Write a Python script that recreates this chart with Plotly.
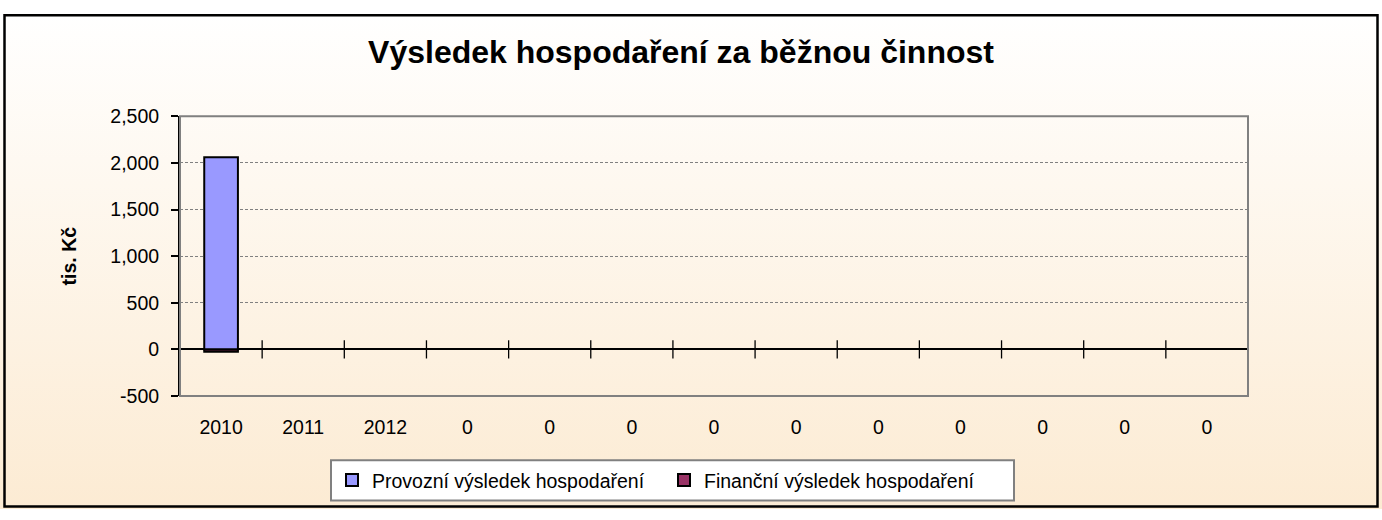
import base64
import plotly.graph_objects as go

# ---- data ----
categories = ["2010", "2011", "2012", "0", "0", "0", "0", "0", "0", "0", "0", "0", "0"]
provozni = [2060, None, None, None, None, None, None, None, None, None, None, None, None]
financni = [-25, None, None, None, None, None, None, None, None, None, None, None, None]
series_names = ["Provozní výsledek hospodaření", "Finanční výsledek hospodaření"]
y_ticks = [-500, 0, 500, 1000, 1500, 2000, 2500]
y_tick_labels = ["-500", "0", "500", "1,000", "1,500", "2,000", "2,500"]
title_text = "Výsledek hospodaření za běžnou činnost"
y_title = "tis. Kč"

W, H = 1382, 520
# plot area in pixels
PL, PR, PT, PB = 180, 1248, 110, 402

xs = list(range(len(categories)))
boundaries = [i - 0.5 for i in range(len(categories) + 1)]

FONT = "Liberation Sans, Arial, sans-serif"

fig = go.Figure()
fig.add_trace(go.Bar(
    x=xs, y=provozni, name=series_names[0], width=0.41,
    marker=dict(color="#9999FF", line=dict(color="#000000", width=2)),
))
fig.add_trace(go.Bar(
    x=xs, y=financni, name=series_names[1], width=0.41,
    marker=dict(color="#993366", line=dict(color="#000000", width=2)),
))
# category-boundary tick marks on the zero line
fig.add_trace(go.Scatter(
    x=boundaries[1:], y=[0] * (len(boundaries) - 1), mode="markers",
    marker=dict(symbol="line-ns-open", size=13, color="#000000",
                line=dict(color="#000000", width=1.3)),
    showlegend=False, hoverinfo="skip", cliponaxis=False,
))

svg = (
    '<svg xmlns="http://www.w3.org/2000/svg" width="100" height="100" preserveAspectRatio="none">'
    '<defs><linearGradient id="g" x1="0" y1="0" x2="0" y2="1">'
    '<stop offset="0" stop-color="#FFFFFF"/><stop offset="1" stop-color="#FCEBD3"/>'
    '</linearGradient></defs><rect width="100" height="100" fill="url(#g)"/></svg>'
)
bg_uri = "data:image/svg+xml;base64," + base64.b64encode(svg.encode()).decode()

fig.update_layout(
    width=W, height=H,
    margin=dict(l=0, r=0, t=0, b=0),
    paper_bgcolor="#FFFFFF",
    plot_bgcolor="#DDDDDD",
    barmode="overlay",
    font=dict(family=FONT, size=19.5, color="#000000"),
    title=dict(text=title_text, x=681 / W, xanchor="center", y=1 - 52 / H, yanchor="middle",
               font=dict(family=FONT, size=32, color="#000000", weight="bold")),
    images=[dict(source=bg_uri, xref="paper", yref="paper", x=0, y=1, sizex=1, sizey=1,
                 xanchor="left", yanchor="top", sizing="stretch", layer="below")],
    xaxis=dict(
        domain=[PL / W, PR / W], range=[-0.5, len(categories) - 0.5],
        tickmode="array", tickvals=xs, ticktext=categories,
        showgrid=False, zeroline=False, showline=False,
        ticks="outside", ticklen=0, ticklabelstandoff=14,
        tickfont=dict(family=FONT, size=19.5, color="#000000"),
        fixedrange=True,
    ),
    yaxis=dict(
        domain=[1 - PB / H, 1 - PT / H], range=[-500, 2500],
        tickmode="array", tickvals=y_ticks, ticktext=y_tick_labels,
        showgrid=True, gridcolor="#808080", gridwidth=1, griddash="3px,2px",
        zeroline=True, zerolinecolor="#000000", zerolinewidth=1.5,
        showline=True, linecolor="#000000", linewidth=2,
        ticks="outside", ticklen=7, tickcolor="#000000", tickwidth=1.5,
        ticklabelstandoff=8,
        tickfont=dict(family=FONT, size=19.5, color="#000000"),
        title=dict(text=y_title, standoff=28,
                   font=dict(family=FONT, size=19.5, color="#000000", weight="bold")),
        fixedrange=True,
    ),
    legend=dict(
        orientation="h", x=332 / W, y=1 - 490 / H, xanchor="left", yanchor="middle",
        bgcolor="rgba(0,0,0,0)", borderwidth=0,
        entrywidth=287, entrywidthmode="pixels",
        font=dict(family=FONT, size=19.5, color="#000000"),
        traceorder="normal",
    ),
    shapes=[
        # legend box
        dict(type="rect", xref="paper", yref="paper", x0=331 / W, x1=1014 / W,
             y0=1 - 511 / H, y1=1 - 469 / H, fillcolor="#FFFFFF",
             line=dict(color="#808080", width=2), layer="below"),
        # plot area border
        dict(type="rect", xref="paper", yref="paper", x0=PL / W, x1=PR / W,
             y0=1 - PB / H, y1=1 - PT / H, line=dict(color="#808080", width=2), layer="above"),
        # outer chart border
        dict(type="rect", xref="paper", yref="paper", x0=4.5 / W, x1=1377.5 / W,
             y0=1 - 517.5 / H, y1=1 - 4.5 / H, line=dict(color="#000000", width=2.5), layer="above"),
    ],
)

fig.write_html("out.html", config={"displayModeBar": False},
               post_script="document.body.style.margin='0';document.body.style.padding='0';")
